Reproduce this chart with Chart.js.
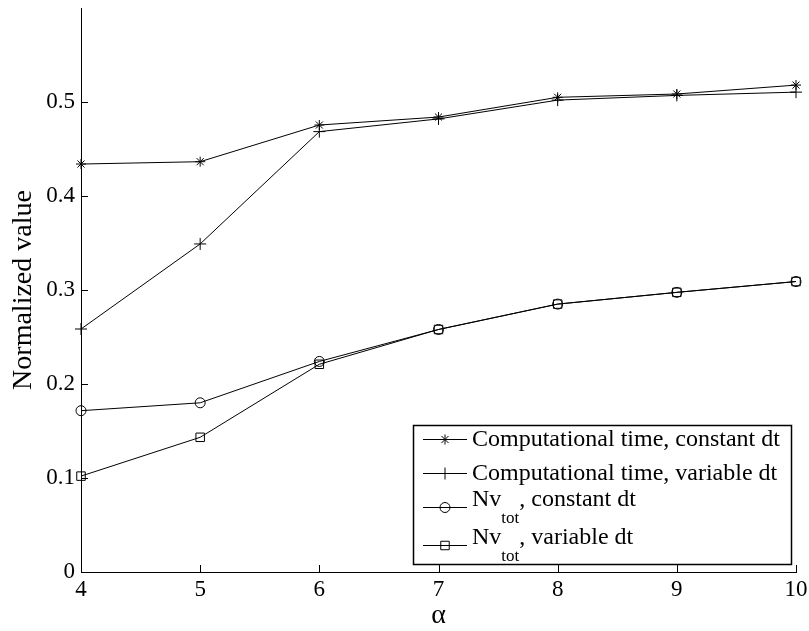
<!DOCTYPE html>
<html>
<head>
<meta charset="utf-8">
<script src="https://cdn.jsdelivr.net/npm/chart.js@4/dist/chart.umd.min.js"></script>
<style>
html,body{margin:0;padding:0;background:#fff;}
#wrap{width:809px;height:631px;position:relative;}
</style>
</head>
<body>
<div id="wrap"><canvas id="c" width="809" height="631"></canvas></div>
<script>
const alphaValues = [4, 5, 6, 7, 8, 9, 10];
const compTimeConstant = [0.434, 0.4365, 0.4755, 0.484, 0.505, 0.5085, 0.518];
const compTimeVariable = [0.2585, 0.349, 0.4685, 0.482, 0.502, 0.507, 0.5105];
const nvTotConstant = [0.1716, 0.180, 0.224, 0.258, 0.285, 0.2975, 0.309];
const nvTotVariable = [0.102, 0.1433, 0.221, 0.258, 0.285, 0.2975, 0.309];
const xTicks = [4, 5, 6, 7, 8, 9, 10];
const yTicks = [0, 0.1, 0.2, 0.3, 0.4, 0.5];
const legendMain = ['Computational time, constant dt', 'Computational time, variable dt', 'Nv', 'Nv'];
const legendSub = ['', '', 'tot', 'tot'];
const legendRest = ['', '', ', constant dt', ', variable dt'];
const xTitle = 'α';
const yTitle = 'Normalized value';

const SERIF = '"Liberation Serif", "Times New Roman", serif';

function toPts(ys){ return alphaValues.map((x,i)=>({x:x, y:ys[i]})); }

const styles = ['star','cross','circle','rect'];
const radii = [5, 6, 5, 6];
const seriesData = [compTimeConstant, compTimeVariable, nvTotConstant, nvTotVariable];

const datasets = seriesData.map((d,i)=>({
  label: legendMain[i] + legendSub[i] + legendRest[i],
  data: toPts(d),
  borderColor: '#000',
  borderWidth: 1,
  pointStyle: styles[i],
  pointRadius: radii[i],
  pointBorderColor: '#000',
  pointBorderWidth: 1,
  pointBackgroundColor: 'rgba(0,0,0,0)',
  fill: false,
  tension: 0,
  clip: false
}));

const tickPlugin = {
  id: 'inwardTicks',
  afterDraw(chart){
    const ctx = chart.ctx;
    const xs = chart.scales.x, ys = chart.scales.y;
    const a = chart.chartArea;
    ctx.save();
    ctx.strokeStyle = '#000';
    ctx.lineWidth = 1;
    ctx.beginPath();
    yTicks.forEach(v=>{
      const py = Math.round(ys.getPixelForValue(v)) + 0.5;
      ctx.moveTo(a.left, py); ctx.lineTo(a.left + 7, py);
    });
    xTicks.forEach(v=>{
      const px = Math.round(xs.getPixelForValue(v)) + 0.5;
      ctx.moveTo(px, a.bottom); ctx.lineTo(px, a.bottom - 7);
    });
    ctx.stroke();

    // legend
    const bx = 413, by = 425, bw = 378, bh = 139;
    ctx.fillStyle = '#fff';
    ctx.fillRect(bx, by, bw, bh);
    ctx.lineWidth = 1.5;
    ctx.strokeRect(bx + 0.5, by + 0.5, bw, bh);
    const lineYs = [439, 473, 507, 545];
    const x0 = 423, x1 = 467, tx = 472;
    for (let i = 0; i < 4; i++){
      const ly = lineYs[i];
      ctx.lineWidth = 1;
      ctx.strokeStyle = '#000';
      ctx.beginPath();
      ctx.moveTo(x0, ly + 0.5); ctx.lineTo(x1, ly + 0.5);
      ctx.stroke();
      ctx.fillStyle = 'rgba(0,0,0,0)';
      Chart.helpers.drawPoint(ctx, {pointStyle: styles[i], radius: radii[i], borderWidth: 1}, (x0 + x1)/2, ly + 0.5);
      ctx.fillStyle = '#000';
      ctx.textAlign = 'left';
      ctx.textBaseline = 'alphabetic';
      if (!legendSub[i]) {
        ctx.font = '24px ' + SERIF;
        ctx.fillText(legendMain[i], tx, ly + 7);
      } else {
        ctx.font = '24px ' + SERIF;
        ctx.fillText(legendMain[i], tx, ly - 1);
        let w = ctx.measureText(legendMain[i]).width;
        ctx.font = '17px ' + SERIF;
        ctx.fillText(legendSub[i], tx + w, ly + 16);
        w += ctx.measureText(legendSub[i]).width;
        ctx.font = '24px ' + SERIF;
        ctx.fillText(legendRest[i], tx + w, ly - 1);
      }
    }
    ctx.restore();
  }
};

new Chart(document.getElementById('c'), {
  type: 'line',
  data: { datasets },
  options: {
    responsive: false,
    animation: false,
    events: [],
    layout: { padding: { top: 8, right: 13, left: 0, bottom: 0 } },
    plugins: { legend: { display: false }, tooltip: { enabled: false } },
    scales: {
      x: {
        type: 'linear', min: 4, max: 10,
        afterBuildTicks(s){ s.ticks = xTicks.map(v=>({value:v})); },
        afterFit(s){ s.height = 59; s.paddingLeft = 0; s.paddingRight = 0; },
        grid: { display: false, drawTicks: false },
        border: { display: true, color: '#000', width: 1 },
        ticks: { color: '#000', padding: 4, font: { family: SERIF, size: 23, lineHeight: 1.2 },
          callback: v => String(v) },
        title: { display: true, text: xTitle, color: '#000', padding: 0,
          font: { family: SERIF, size: 28, lineHeight: 1.1 } }
      },
      y: {
        type: 'linear', min: 0, max: 0.6,
        afterBuildTicks(s){ s.ticks = yTicks.map(v=>({value:v})); },
        afterFit(s){ s.width = 81; s.paddingTop = 0; s.paddingBottom = 0; },
        grid: { display: false, drawTicks: false },
        border: { display: true, color: '#000', width: 1 },
        ticks: { color: '#000', padding: 6, font: { family: SERIF, size: 23, lineHeight: 1.2 },
          callback: v => (v === 0 ? '0' : (+v).toFixed(1)) },
        title: { display: true, text: yTitle, color: '#000', padding: { top: 7, bottom: 0 },
          font: { family: SERIF, size: 28, lineHeight: 1.2 } }
      }
    }
  },
  plugins: [tickPlugin]
});
</script>
</body>
</html>
